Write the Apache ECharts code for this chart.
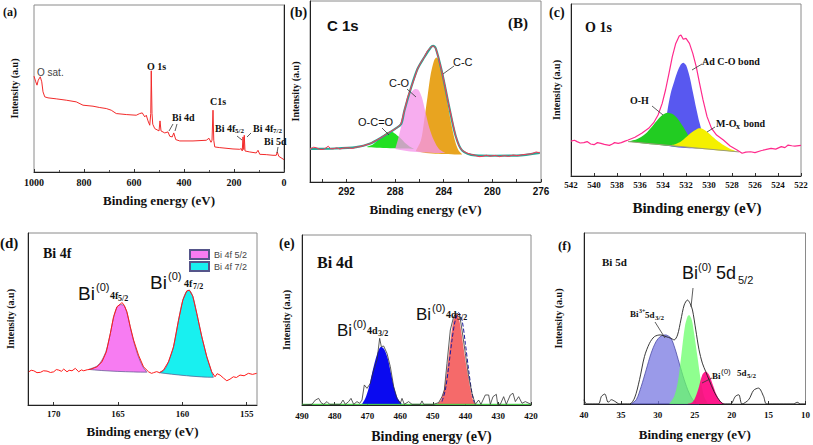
<!DOCTYPE html>
<html>
<head>
<meta charset="utf-8">
<script src="https://cdn.jsdelivr.net/npm/echarts@6/dist/echarts.min.js"></script>
<style>
html, body { margin: 0; padding: 0; background: #fff; }
#main { width: 813px; height: 445px; }
</style>
</head>
<body>
<div id="main"></div>
<script>
// ---- (a) survey spectrum: [binding energy, intensity]
var surveyRaw = [[1000,57.4],[993,54],[988,52],[983,55],[975,57],[969,54],[964,48],[957,45],[944,44.4],[911,43.8],[871,43],[831,42],[804,40],[764,39.4],[737,38.6],[711,38],[691,37],[671,35],[631,34.4],[591,34],[577,35],[567,35.4],[557,33],[551,34],[544,30.6],[537,28],[533,35],[531,60.6],[528,35],[525,28.6],[517,26],[500,24.6],[496,30.6],[492,24.6],[477,23.4],[464,24],[457,21.4],[447,21],[441,23.4],[433,19.4],[417,18.6],[364,18.6],[311,19],[300,20.2],[292,17.8],[288,19],[284,37],[281,19],[277,15],[257,14.6],[204,13.8],[177,13.6],[171,14],[167,12.6],[164,21],[161,13.4],[159,22],[156,12.6],[137,12],[111,11.4],[104,13],[97,10.6],[71,10.4],[44,10],[31,10],[27,12],[21,9.4],[0,7.4]];

// ---- (b) C 1s
var c1sRaw = [[295.0,18.3],[294.7,19.2],[294.46,18.9],[294.2,18.0],[293.91,18.0],[293.7,18.8],[293.5,19.8],[293.3,18.4],[293.1,18.3],[292.8,18.9],[292.55,18.2],[292.2,18.8],[291.87,18.9],[291.5,18.5],[291.19,19.3],[290.9,19.5],[290.65,20.0],[290.1,21.1],[289.56,22.9],[289.01,25.1],[288.47,27.5],[287.98,29.4],[287.79,30.3],[287.52,32.1],[287.24,39.4],[286.97,46.8],[286.7,51.9],[286.43,56.9],[286.16,62.4],[285.88,66.1],[285.61,68.8],[285.34,72.5],[285.07,74.3],[284.88,75.2],[284.66,73.9],[284.44,68.8],[284.17,61.5],[283.9,53.2],[283.63,44.0],[283.3,33.9],[283.03,25.7],[282.76,20.2],[282.48,17.4],[282.08,16.0],[281.7,15.2],[281.39,14.7],[281.1,14.0],[280.85,14.1],[280.5,14.8],[280.2,14.2],[279.76,14.7],[279.4,14.0],[279.0,14.6],[278.67,14.1],[278.3,14.9],[277.9,14.5],[277.59,15.0],[277.2,15.3],[276.77,15.6],[276.4,16.6],[276.09,16.1]];
var c1sFit = [[295,18.3],[293,18.5],[291.2,19.3],[290.1,21.1],[289.0,25.1],[288.0,29.4],[287.5,32.1],[287.24,39.4],[286.7,51.9],[286.16,62.4],[285.61,68.8],[285.07,74.3],[284.88,75.2],[284.66,73.9],[284.17,61.5],[283.63,44.0],[283.03,25.7],[282.48,17.4],[281.4,14.7],[279.8,14.5],[278,14.6],[276.1,16.1]];
var peakCC = [[286.29,17.1],[285.88,22.9],[285.61,33.9],[285.34,46.8],[285.07,59.6],[284.8,67.0],[284.61,68.8],[284.39,67.3],[284.17,61.5],[283.9,52.3],[283.63,41.3],[283.35,31.2],[283.08,22.9],[282.81,17.8],[282.48,15.2]];
var peakCO = [[287.98,18.3],[287.79,22.9],[287.52,30.3],[287.24,39.4],[286.97,45.9],[286.7,49.5],[286.35,51.4],[286.08,50.8],[285.8,46.8],[285.53,39.4],[285.2,30.3],[284.8,22.9],[284.39,18.3],[283.84,16.0]];
var peakOCO = [[290.37,19.3],[289.83,20.7],[289.29,23.9],[288.74,27.0],[288.41,27.9],[288.06,27.0],[287.65,24.8],[287.24,22.0],[286.84,19.8],[286.43,18.3]];

// ---- (c) O 1s
var o1sRaw = [[542.0,20.3],[541.7,20.8],[541.47,20.0],[541.2,19.2],[540.88,19.4],[540.6,20.0],[540.29,18.6],[540.0,18.2],[539.7,19.4],[539.4,19.0],[539.1,18.4],[538.66,17.8],[538.4,18.6],[538.21,19.4],[537.9,19.0],[537.62,19.4],[537.3,20.3],[537.03,20.9],[536.44,22.5],[535.85,24.8],[535.25,27.7],[534.81,31.0],[534.43,35.5],[534.07,42.2],[533.78,50.0],[533.48,59.7],[533.19,69.4],[532.89,77.1],[532.59,81.4],[532.44,82.0],[532.24,79.5],[532.0,80.0],[531.7,77.1],[531.41,71.3],[531.11,63.6],[530.82,53.9],[530.52,44.2],[530.17,34.5],[529.78,27.7],[529.34,23.8],[528.75,20.9],[528.16,17.4],[527.56,15.1],[527.12,13.2],[526.8,13.9],[526.38,14.1],[526.0,13.6],[525.49,14.7],[525.1,15.3],[524.6,16.1],[524.2,15.6],[523.71,17.1],[523.4,16.5],[523.12,18.0],[522.8,17.6],[522.53,17.4],[522.0,17.8]];
var peakAdCO = [[534.22,18.4],[533.92,24.8],[533.63,37.4],[533.33,48.1],[533.03,54.8],[532.74,60.7],[532.44,64.9],[532.24,65.9],[532.0,64.5],[531.7,58.1],[531.41,49.0],[531.11,39.3],[530.81,30.6],[530.52,23.8],[530.16,19.4],[529.78,15.7]];
var peakOH = [[537.03,20.0],[536.29,21.3],[535.55,24.4],[534.96,28.7],[534.37,33.5],[533.92,36.0],[533.63,36.8],[533.18,36.0],[532.74,33.5],[532.29,29.1],[532.0,25.8],[531.7,21.9],[531.55,16.8]];
var peakMOx = [[533.33,17.8],[532.89,18.6],[532.44,20.0],[532.0,22.5],[531.55,25.2],[531.11,27.1],[530.81,27.7],[530.46,27.1],[530.07,25.2],[529.63,22.5],[529.19,20.0],[528.74,18.0],[528.15,15.7],[527.5,14.1]];
var o1sBase = [[537.03,20.0],[527.4,14.0]];

// ---- (d) Bi 4f
var bi4fRaw = [[171.94,19.3],[171.75,20.2],[171.55,19.9],[171.3,18.8],[171.03,19.0],[170.8,19.9],[170.52,19.7],[170.25,18.9],[170.0,19.3],[169.8,20.6],[169.61,20.3],[169.4,19.6],[169.22,20.9],[168.97,19.3],[168.8,20.2],[168.58,19.9],[168.32,21.3],[168.06,19.3],[167.85,20.4],[167.67,19.9],[167.4,20.5],[167.16,20.7],[166.64,22.2],[166.25,25.1],[165.91,30.9],[165.6,41.6],[165.35,51.3],[165.09,57.1],[164.83,58.6],[164.7,59.6],[164.52,58.0],[164.31,54.2],[164.05,45.5],[163.79,37.7],[163.41,29.0],[163.02,22.2],[162.63,19.3],[162.4,18.4],[162.24,18.8],[162.0,19.4],[161.78,18.8],[161.47,20.3],[161.08,25.1],[160.69,33.8],[160.3,49.3],[159.97,60.9],[159.66,66.3],[159.45,66.7],[159.19,63.2],[158.88,53.2],[158.49,39.7],[158.1,28.0],[157.72,19.3],[157.46,16.4],[157.3,18.2],[157.07,17.4],[156.8,15.6],[156.55,14.1],[156.3,15.0],[156.04,16.4],[155.8,16.0],[155.52,17.4],[155.2,17.0],[154.87,18.4],[154.55,17.8],[154.23,18.4]];
var peak4f52 = [[167.28,20.7],[166.64,22.6],[166.25,26.1],[165.91,31.9],[165.6,41.6],[165.35,50.7],[165.09,56.7],[164.83,58.4],[164.52,57.6],[164.26,52.2],[164.0,43.5],[163.74,35.8],[163.41,28.0],[163.07,22.2],[162.76,19.1]];
var peak4f72 = [[161.78,18.8],[161.41,20.3],[161.08,25.1],[160.69,33.8],[160.3,49.3],[159.97,60.9],[159.66,66.3],[159.45,66.7],[159.19,63.2],[158.88,53.2],[158.49,39.7],[158.1,28.0],[157.79,20.7],[157.59,16.1]];

// ---- (e) Bi 4d
var bi4dRaw = [[490.0,0],[486.94,0.4],[485.92,2.9],[484.91,3.9],[484.19,1.4],[483.38,0.4],[482.36,2.0],[481.54,0.4],[478.28,0.4],[477.47,2.9],[476.75,0.4],[475.74,2.0],[475.02,3.9],[474.21,0.4],[473.19,2.0],[472.37,1.0],[471.66,2.9],[470.95,11.8],[470.13,9.8],[469.11,12.7],[468.09,20.6],[467.07,26.5],[466.26,39.2],[465.75,34.3],[465.04,34.7],[464.02,30.4],[463.0,22.5],[461.98,10.8],[460.96,3.9],[459.94,1.0],[459.43,3.9],[458.72,0.4],[457.4,2.0],[456.38,0.4],[453.83,0.4],[453.32,2.4],[452.81,0.4],[449.75,0.4],[448.23,1.4],[447.21,4.9],[446.49,8.8],[445.68,24.5],[444.66,44.1],[443.64,52.0],[442.62,53.9],[441.81,52.9],[441.09,44.1],[440.07,30.4],[439.06,16.7],[438.04,6.9],[437.02,0.4],[436.0,2.9],[435.29,0.4],[433.96,5.9],[432.94,5.9],[432.43,0.4],[431.62,4.9],[430.6,6.3],[430.19,0.4],[429.38,0.4],[428.36,4.9],[427.54,0.4],[426.32,5.9],[425.5,6.9],[424.79,2.0],[423.77,4.9],[422.75,1.0],[421.73,2.0],[420.0,0.4]];
var peak4d32 = [[471.66,0.4],[470.64,3.9],[469.62,9.8],[468.6,18.6],[467.58,26.5],[466.57,32.4],[465.85,34.3],[464.83,32.7],[463.81,27.5],[462.8,18.6],[461.78,9.8],[460.76,3.9],[459.43,0.4]];
var peak4d52 = [[448.74,0.4],[447.51,2.9],[446.49,9.8],[445.68,20.6],[444.86,34.3],[444.05,46.1],[443.13,53.9],[442.32,52.9],[441.4,44.1],[440.58,33.3],[439.56,20.6],[438.55,9.8],[437.73,2.9],[437.02,0.4]];
var fit4d52 = [[447.21,2.0],[446.19,8.8],[445.17,22.5],[444.15,38.2],[443.13,50.0],[442.11,54.3],[441.09,50.0],[440.07,36.3],[439.06,20.6],[438.04,6.9],[437.33,1.4]];
var bi4dBase = [[490,0.4],[420,0.4]];

// ---- (f) Bi 5d
var bi5dRaw = [[40.0,2.5],[39.64,0],[38.07,0],[37.63,4.5],[37.18,5.8],[36.73,1.0],[36.28,2.5],[35.84,1.6],[35.16,0],[33.82,0],[33.15,3.5],[32.48,14.2],[31.81,27.8],[31.13,35.5],[30.46,39.4],[29.66,40.4],[28.89,39.4],[28.22,38.4],[27.78,37.5],[27.33,40.4],[26.88,49.1],[26.43,57.9],[25.98,60.8],[25.63,58.8],[25.31,55.0],[24.86,43.3],[24.42,31.7],[23.97,23.9],[23.52,19.0],[23.07,14.2],[22.4,7.4],[21.73,2.5],[21.06,0],[20.16,0],[19.49,4.5],[19.04,5.4],[18.6,0],[17.7,2.5],[17.03,8.0],[16.36,9.3],[15.68,4.5],[15.24,0],[11.65,0],[11.12,1.0],[10.67,0],[10.0,0]];
var peak5d32 = [[33.6,0],[32.92,2.5],[32.25,10.3],[31.58,20.0],[30.91,29.7],[30.24,36.5],[29.57,39.8],[28.89,40.4],[28.22,38.4],[27.69,32.6],[27.1,23.9],[26.43,14.2],[25.76,6.4],[25.09,1.6],[24.42,0]];
var peak5d52 = [[28.45,0],[27.78,4.5],[27.24,14.2],[26.79,29.7],[26.34,45.2],[25.98,51.1],[25.76,52.0],[25.4,49.1],[25.09,41.4],[24.64,27.8],[24.19,14.2],[23.74,4.5],[23.21,0]];
var peak5d52b = [[25.98,0],[25.31,1.0],[24.86,4.5],[24.42,10.3],[23.97,17.1],[23.52,19.0],[23.07,17.1],[22.63,12.2],[22.04,5.4],[21.51,1.6],[20.97,0]];

// single family names for textStyle (a list gets treated as one name there)
var SERIF_FAM = "Liberation Serif";
var SANS_FAM = "Liberation Sans";
var SERIF = "Liberation Serif, serif";
var SANS = "Liberation Sans, sans-serif";

var grids = [
    { left: 34, top: 5, width: 250, height: 167 },
    { left: 310, top: 1, width: 231, height: 181 },
    { left: 571, top: 4, width: 230, height: 172 },
    { left: 28, top: 233, width: 229, height: 172 },
    { left: 302, top: 235, width: 229, height: 170 },
    { left: 584, top: 233, width: 223, height: 171 }
].map(function (g) {
    return Object.assign({ show: true, borderColor: "#8a8a8a", borderWidth: 1, backgroundColor: "transparent" }, g);
});

function xAx(i, o) {
    return {
        gridIndex: i, type: "value", inverse: true,
        min: o.min, max: o.max, interval: o.interval,
        name: "Binding energy (eV)", nameLocation: "middle", nameGap: o.nameGap,
        nameTextStyle: { fontFamily: SERIF_FAM, fontWeight: "bold", fontSize: o.nameSize, color: "#111", padding: o.namePad || 0 },
        axisLine: { show: true, onZero: false, lineStyle: { color: "#222", width: 1 } },
        axisTick: { show: true, inside: true, length: 3, lineStyle: { color: "#333" }, customValues: o.tickVals },
        minorTick: { show: !!o.minor, splitNumber: o.minor || 2, length: 2, lineStyle: { color: "#555" } },
        axisLabel: {
            fontFamily: o.labelFont || SERIF_FAM, fontWeight: "bold", fontSize: o.labelSize, color: "#111",
            margin: o.margin, customValues: o.labelVals, hideOverlap: false,
            formatter: function (v) { return String(v); }
        },
        splitLine: { show: false }
    };
}

function yAx(i, gap) {
    return {
        gridIndex: i, type: "value", min: 0, max: 100,
        name: "Intensity (a.u)", nameLocation: "middle", nameGap: gap,
        nameTextStyle: { fontFamily: SERIF_FAM, fontWeight: "bold", fontSize: 10, color: "#111" },
        axisLine: { show: true, lineStyle: { color: "#222" } },
        axisTick: { show: false }, axisLabel: { show: false }, splitLine: { show: false }
    };
}

function line(i, data, color, width, extra) {
    return Object.assign({
        type: "line", xAxisIndex: i, yAxisIndex: i, data: data,
        showSymbol: false, symbol: "none", silent: true, z: 4,
        lineStyle: { color: color, width: width }
    }, extra);
}

// filled fit component, drawn as a closed polygon through the axes
function area(i, pts, fill, stroke, name) {
    return {
        type: "custom", name: name, xAxisIndex: i, yAxisIndex: i,
        data: [pts[0]], silent: true, z: 2,
        itemStyle: { color: fill, borderColor: stroke || "#333", borderWidth: 0.8 },
        renderItem: function (params, api) {
            var p = pts.map(function (d) { return api.coord(d); });
            var xs = p.map(function (q) { return q[0]; });
            var ys = p.map(function (q) { return q[1]; });
            return {
                type: "polygon",
                shape: {
                    points: p, smooth: 0.3,
                    smoothConstraint: [[Math.min.apply(null, xs), Math.min.apply(null, ys)], [Math.max.apply(null, xs), Math.max.apply(null, ys)]]
                },
                style: { fill: fill, stroke: stroke || "none", lineWidth: 0.7 }
            };
        }
    };
}

function T(x, y, text, font, color) {
    return { type: "text", x: x, y: y, z: 100, style: { text: text, font: font, fill: color || "#111", align: "left", verticalAlign: "middle" } };
}
function L(x1, y1, x2, y2) {
    return { type: "line", z: 100, shape: { x1: x1, y1: y1, x2: x2, y2: y2 }, style: { stroke: "#333", lineWidth: 0.8 } };
}

var bs = function (n) { return "bold " + n + "px " + SERIF; };
var ss = function (n) { return n + "px " + SANS; };

var texts = [
    // (a)
    T(3, 12, "(a)", bs(12)),
    T(37, 72, "O sat.", ss(10), "#444"),
    T(147, 66, "O 1s", bs(10)),
    T(172, 117, "Bi 4d", bs(10)),
    L(173, 124, 169, 131), L(177, 124, 175, 131),
    T(210, 101, "C1s", bs(10)),
    T(215, 128, "Bi 4f", bs(10)), T(235, 131, "5/2", bs(7)),
    L(237, 136, 242, 140),
    T(253, 128, "Bi 4f", bs(10)), T(273, 131, "7/2", bs(7)),
    L(251, 133, 247, 137),
    T(264, 141, "Bi 5d", bs(10)),
    L(278, 147, 277, 153),
    // (b)
    T(290, 12, "(b)", bs(14)),
    T(327, 25, "C 1s", "bold 15px " + SANS),
    T(508, 23, "(B)", bs(15)),
    T(453, 62, "C-C", ss(11)), L(454, 66, 443, 74),
    T(389, 83, "C-O", ss(11)), L(407, 89, 416, 97),
    T(358, 122, "O-C=O", ss(11)), L(382, 128, 389, 135),
    // (c)
    T(549, 12, "(c)", bs(14)),
    T(585, 27, "O 1s", bs(14)),
    T(702, 61, "Ad C-O bond", bs(10)), L(702, 64, 692, 70),
    T(630, 100, "O-H", bs(10)), L(652, 106, 663, 115),
    T(716, 123, "M-O", bs(10)), T(736, 126, "x", bs(8)), T(741, 123, " bond", bs(10)),
    L(715, 127, 707, 132),
    // (d)
    T(0, 243, "(d)", bs(15)),
    T(43, 253, "Bi 4f", bs(14)),
    T(78, 293, "Bi", ss(19)), T(96, 287, "(0)", ss(11)), T(110, 295, "4f", bs(10)), T(118, 298, "5/2", bs(8)),
    T(150, 282, "Bi", ss(19)), T(168, 276, "(0)", ss(11)), T(184, 283, "4f", bs(10)), T(193, 286, "7/2", bs(8)),
    // (e)
    T(279, 243, "(e)", bs(14)),
    T(317, 262, "Bi 4d", bs(16)),
    T(337, 330, "Bi", ss(17)), T(353, 324, "(0)", ss(11)), T(367, 330, "4d", bs(10)), T(378, 333, "3/2", bs(8)),
    T(416, 314, "Bi", ss(17)), T(432, 308, "(0)", ss(11)), T(446, 314, "4d", bs(10)), T(457, 317, "5/2", bs(8)),
    // (f)
    T(558, 245, "(f)", bs(13)),
    T(602, 262, "Bi 5d", bs(11)),
    T(682, 273, "Bi", ss(18)), T(698, 267, "(0)", ss(11)), T(716, 273, "5d", ss(18)), T(738, 280, "5/2", ss(11)),
    L(693, 288, 691, 307),
    T(630, 314, "Bi", bs(9)), T(639, 311, "3+", bs(6)), T(645, 315, "5d", bs(9)), T(655, 318, "3/2", bs(7)),
    L(655, 322, 665, 338),
    T(712, 376, "Bi", bs(9)), T(721, 371, "(0)", ss(8)), T(737, 373, "5d", bs(9)), T(747, 376, "5/2", bs(7)),
    L(712, 378, 702, 383)
];

var option = {
    animation: false,
    backgroundColor: "#fff",
    legend: {
        data: ["Bi 4f 5/2", "Bi 4f 7/2"],
        left: 184, top: 244, orient: "vertical",
        itemWidth: 19, itemHeight: 9, itemGap: 1, icon: "rect",
        textStyle: { fontFamily: SANS_FAM, fontSize: 9, color: "#444" },
        selectedMode: false
    },
    grid: grids,
    xAxis: [
        xAx(0, { min: 0, max: 1000, interval: 200, minor: 2, labelSize: 10, margin: 5, nameGap: 22, nameSize: 13 }),
        xAx(1, { min: 276, max: 295, tickVals: [276, 278, 280, 282, 284, 286, 288, 290, 292, 294], labelVals: [276, 280, 284, 288, 292], labelFont: SANS_FAM, labelSize: 10, margin: 4, nameGap: 21, nameSize: 13 }),
        xAx(2, { min: 522, max: 542, interval: 2, labelSize: 9, margin: 4, nameGap: 24, nameSize: 15, namePad: [0, 0, 0, 22] }),
        xAx(3, { min: 154.2, max: 172, tickVals: [155, 160, 165, 170], labelVals: [155, 160, 165, 170], labelSize: 9, margin: 4, nameGap: 20, nameSize: 13 }),
        xAx(4, { min: 420, max: 490, interval: 10, labelSize: 9, margin: 6, nameGap: 24, nameSize: 14, namePad: [0, 0, 0, 30] }),
        xAx(5, { min: 10, max: 40, interval: 5, labelSize: 9, margin: 6, nameGap: 24, nameSize: 13 })
    ],
    yAxis: [yAx(0, 15), yAx(1, 10), yAx(2, 10), yAx(3, 13), yAx(4, 11), yAx(5, 21)],
    series: [
        line(0, surveyRaw, "#f22a2a", 1),

        area(1, peakOCO, "#22e022"),
        area(1, peakCC, "#e8a420"),
        area(1, peakCO, "rgba(245,150,235,0.78)"),
        line(1, c1sFit, "#2aa594", 2.2, { smooth: 0.3 }),
        line(1, c1sRaw, "#ff3355", 1),

        area(2, peakAdCO, "#5858f0"),
        area(2, peakOH, "#22cc22"),
        area(2, peakMOx, "#f5f000"),
        line(2, o1sBase, "#9c9c7a", 1),
        line(2, o1sRaw, "#ff2a8c", 1.2),

        area(3, peak4f52, "#f77cf2", "#55558a", "Bi 4f 5/2"),
        area(3, peak4f72, "#18f0f0", "#55558a", "Bi 4f 7/2"),
        line(3, bi4fRaw, "#ff1a1a", 1),

        line(4, bi4dBase, "#33cc33", 1),
        area(4, peak4d32, "#0a0af0"),
        area(4, peak4d52, "#f56a6a"),
        line(4, fit4d52, "#1a1aa0", 1, { lineStyle: { color: "#1a1aa0", width: 1, type: "dashed" }, smooth: 0.3 }),
        line(4, bi4dRaw, "#333", 0.8),

        area(5, peak5d32, "rgba(120,120,225,0.75)", "#3a3a9a"),
        area(5, peak5d52, "rgba(100,255,100,0.72)"),
        area(5, peak5d52b, "rgba(255,0,128,0.9)"),
        line(5, bi5dRaw, "#222", 0.9, { smooth: 0.3 })
    ],
    graphic: texts
};

var chart = echarts.init(document.getElementById("main"), null, { renderer: "svg" });
chart.setOption(option);
</script>
</body>
</html>
